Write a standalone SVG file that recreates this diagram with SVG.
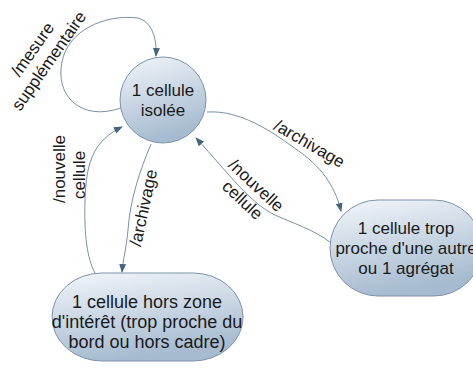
<svg xmlns="http://www.w3.org/2000/svg" width="473" height="370" viewBox="0 0 473 370">
<defs>
<linearGradient id="g" x1="0" y1="0" x2="0.3" y2="1">
<stop offset="0" stop-color="#f2f6fa"/>
<stop offset="1" stop-color="#a6bbd0"/>
</linearGradient>
<marker id="ah" markerWidth="9" markerHeight="7" refX="8" refY="3.5" orient="auto" markerUnits="userSpaceOnUse">
<path d="M0,0 L9,3.5 L0,7 Z" fill="#46637f"/>
</marker>
<style>
.node{fill:url(#g);stroke:#7f93a8;stroke-width:1}
.t{font-family:"Liberation Sans",Arial,sans-serif;font-size:17px;fill:#1a1a1a;text-anchor:middle}
.big{font-size:18px}
.c{fill:none;stroke:#7b90a6;stroke-width:1;marker-end:url(#ah)}
</style>
</defs>
<rect width="473" height="370" fill="#ffffff"/>
<g id="connectors">
<path class="c" d="M121,108 C80,122 55,95 62,62 C68,30 105,14 138,18 C152,22 157,38 156,56"/>
<path class="c" d="M207,112 C240,110 270,130 300,152 C325,170 336,190 341,211"/>
<path class="c" d="M331,243 C315,230 290,222 275,215 C250,203 230,175 196,138"/>
<path class="c" d="M95,273 C87,258 84,235 85,200 C86,160 95,140 122,127"/>
<path class="c" d="M151,144 C140,170 130,200 128,230 C126,250 123,260 122,272"/>
</g>
<g id="labels">
<text class="t" transform="translate(40.5,55) rotate(-55)"><tspan x="0" y="-4">/mesure</tspan><tspan x="0" y="16">supplémentaire</tspan></text>
<text class="t" transform="translate(306.5,148.5) rotate(30)"><tspan x="0" y="0">/archivage</tspan></text>
<text class="t" transform="translate(249.5,192.5) rotate(43)"><tspan x="0" y="-4">/nouvelle</tspan><tspan x="0" y="16">cellule</tspan></text>
<text class="t" transform="translate(65,169) rotate(-90)"><tspan x="0" y="0">/nouvelle</tspan><tspan x="-6" y="20">cellule</tspan></text>
<text class="t" transform="translate(149,209) rotate(-78)"><tspan x="0" y="0">/archivage</tspan></text>
</g>
<g id="node-isolee">
<circle class="node" cx="163" cy="100" r="43"/>
<text class="t"><tspan x="163" y="96">1 cellule</tspan><tspan x="163" y="116">isolée</tspan></text>
</g>
<g id="node-proche">
<rect class="node" x="330" y="200" width="152" height="96" rx="48" ry="48"/>
<text class="t"><tspan x="406" y="234">1 cellule trop</tspan><tspan x="406" y="254">proche d'une autre</tspan><tspan x="406" y="274">ou 1 agrégat</tspan></text>
</g>
<g id="node-hors">
<rect class="node" x="52" y="273" width="191" height="88" rx="50" ry="44"/>
<text class="t big"><tspan x="147" y="308">1 cellule hors zone</tspan><tspan x="147" y="328">d'intérêt (trop proche du</tspan><tspan x="147" y="348">bord ou hors cadre)</tspan></text>
</g>
</svg>
